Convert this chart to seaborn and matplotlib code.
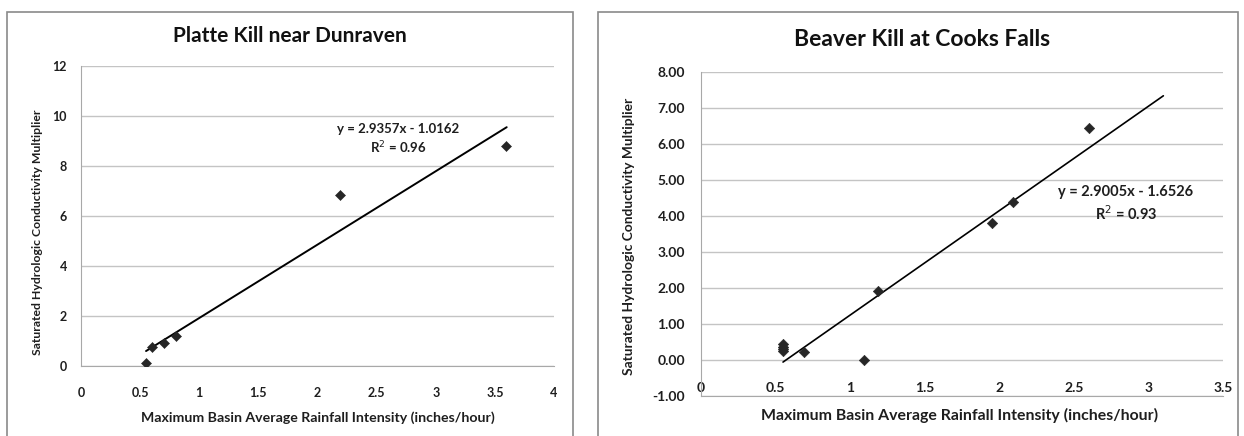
import numpy as np
import pandas as pd
import seaborn as sns
import matplotlib.pyplot as plt
from matplotlib.patches import Rectangle

# Platte Kill near Dunraven
platte_x = [0.55, 0.60, 0.70, 0.80, 2.19, 3.59]
platte_y = [0.11, 0.77, 0.93, 1.20, 6.84, 8.80]
platte_slope, platte_icept = 2.9357, -1.0162
platte_trend_x = [0.55, 3.60]

# Beaver Kill at Cooks Falls
beaver_x = [0.55, 0.55, 0.55, 0.55, 0.69, 1.09, 1.19, 1.95, 2.09, 2.60]
beaver_y = [0.45, 0.37, 0.30, 0.25, 0.23, 0.00, 1.92, 3.80, 4.38, 6.45]
beaver_slope, beaver_icept = 2.9005, -1.6526
beaver_trend_x = [0.55, 3.10]

xlabel = 'Maximum Basin Average Rainfall Intensity (inches/hour)'
ylabel = 'Saturated Hydrologic Conductivity Multiplier'

sns.set_style('white')
plt.rcParams['font.family'] = ['Lato', 'DejaVu Sans']

W, H = 1244, 436
fig = plt.figure(figsize=(W / 100, H / 100), dpi=100)

def fx(px):
    return px / W

def fy(py):
    return 1 - py / H

# panel frames
for x0, x1 in [(7, 573), (598, 1238)]:
    fig.patches.append(Rectangle((fx(x0), fy(440)), fx(x1 - x0), fy(12) - fy(440),
                                 transform=fig.transFigure, fill=False,
                                 edgecolor='#8a8a8a', linewidth=1.2))

grid_c = '#c4c4c4'
mk_c = '#262626'
txt_c = '#1e1e1e'

# ---- left chart
ax1 = fig.add_axes([fx(81), fy(366), fx(554 - 81), fy(66) - fy(366)])
df1 = pd.DataFrame({'x': platte_x, 'y': platte_y})
sns.scatterplot(data=df1, x='x', y='y', marker='D', s=26, color=mk_c,
                edgecolor=mk_c, ax=ax1, zorder=3)
tx = np.array(platte_trend_x)
sns.lineplot(x=tx, y=platte_slope * tx + platte_icept, color='black', lw=1.4, ax=ax1)
ax1.set_xlim(0, 4)
ax1.set_ylim(0, 12)
ax1.set_xticks(np.arange(0, 4.01, 0.5))
ax1.set_xticklabels(['0', '0.5', '1', '1.5', '2', '2.5', '3', '3.5', '4'])
ax1.set_yticks(range(0, 13, 2))
ax1.tick_params(axis='x', length=0, pad=15, labelsize=9, colors=txt_c)
ax1.tick_params(axis='y', length=0, pad=10, labelsize=9, colors=txt_c)
for lab in ax1.get_xticklabels() + ax1.get_yticklabels():
    lab.set_fontweight('bold')
ax1.yaxis.grid(True, color=grid_c, lw=1)
ax1.set_xlabel('')
ax1.set_ylabel('')
for s in ['top', 'right']:
    ax1.spines[s].set_visible(False)
for s in ['left', 'bottom']:
    ax1.spines[s].set_color('#a8a8a8')
ax1.text(2.68, 9.07, 'y = 2.9357x - 1.0162\nR$^2$ = 0.96', ha='center', va='center',
         fontsize=9.5, fontweight='bold', color=txt_c, linespacing=1.3)

fig.text(fx(290), fy(36), 'Platte Kill near Dunraven', ha='center', va='center',
         fontsize=15, fontweight='bold', color='#111111')
fig.text(fx(38), fy(232), ylabel, rotation=90, ha='center', va='center',
         fontsize=8.8, fontweight='bold', color=txt_c)
fig.text(fx(318), fy(418), xlabel, ha='center', va='center',
         fontsize=10.2, fontweight='bold', color=txt_c)

# ---- right chart
ax2 = fig.add_axes([fx(701), fy(396), fx(1223 - 701), fy(72) - fy(396)])
df2 = pd.DataFrame({'x': beaver_x, 'y': beaver_y})
sns.scatterplot(data=df2, x='x', y='y', marker='D', s=28, color=mk_c,
                edgecolor=mk_c, ax=ax2, zorder=3)
tx = np.array(beaver_trend_x)
sns.lineplot(x=tx, y=beaver_slope * tx + beaver_icept, color='black', lw=1.2, ax=ax2)
ax2.set_xlim(0, 3.5)
ax2.set_ylim(-1, 8)
ax2.set_xticks(np.arange(0, 3.51, 0.5))
ax2.set_xticklabels(['0', '0.5', '1', '1.5', '2', '2.5', '3', '3.5'])
ax2.set_yticks(range(-1, 9))
ax2.set_yticklabels([f'{v:.2f}' for v in range(-1, 9)])
ax2.tick_params(axis='x', length=0, pad=-10, labelsize=10, colors=txt_c)
ax2.tick_params(axis='y', length=0, pad=11.5, labelsize=10, colors=txt_c)
for lab in ax2.get_xticklabels() + ax2.get_yticklabels():
    lab.set_fontweight('bold')
ax2.yaxis.grid(True, color=grid_c, lw=1)
ax2.set_xlabel('')
ax2.set_ylabel('')
for s in ['top', 'right']:
    ax2.spines[s].set_visible(False)
for s in ['left', 'bottom']:
    ax2.spines[s].set_color('#a8a8a8')
ax2.text(2.85, 4.33, 'y = 2.9005x - 1.6526\nR$^2$ = 0.93', ha='center', va='center',
         fontsize=10.5, fontweight='bold', color=txt_c, linespacing=1.3)

fig.text(fx(922), fy(39), 'Beaver Kill at Cooks Falls', ha='center', va='center',
         fontsize=16.5, fontweight='bold', color='#111111')
fig.text(fx(629), fy(236), ylabel, rotation=90, ha='center', va='center',
         fontsize=9.9, fontweight='bold', color=txt_c)
fig.text(fx(960), fy(415), xlabel, ha='center', va='center',
         fontsize=11.4, fontweight='bold', color=txt_c)

fig.savefig('out.png', dpi=100, facecolor='white')
